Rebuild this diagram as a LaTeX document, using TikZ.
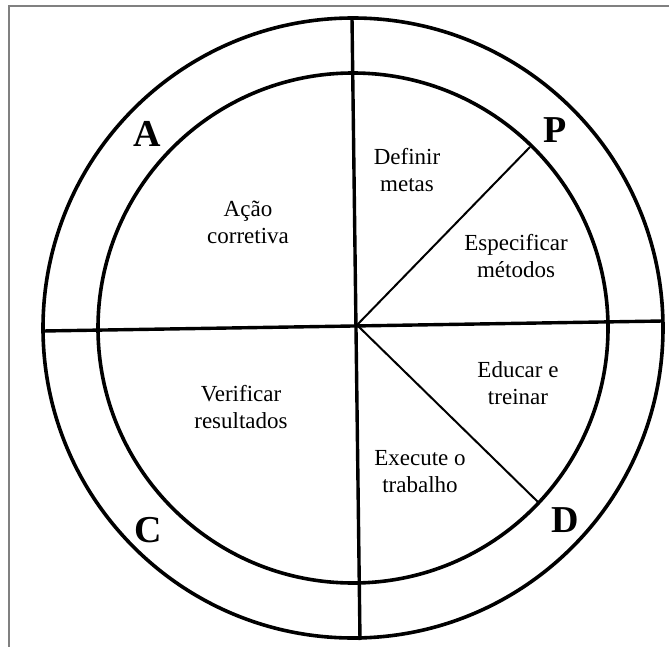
\documentclass[tikz,border=0pt]{standalone}
\usepackage{fontspec}
\setmainfont{Liberation Serif}
\begin{document}
\begin{tikzpicture}[x=1pt,y=-1pt,
  ring/.style={line width=3.6pt},
  axis/.style={line width=3.4pt},
  diag/.style={line width=2pt},
  frameline/.style={line width=1.4pt, gray},
  lbl/.style={align=center, font=\fontsize{23}{27}\selectfont, inner sep=0pt},
  letter/.style={font=\fontsize{38}{38}\selectfont\bfseries, inner sep=0pt}]
\useasboundingbox[fill=white] (0,0) rectangle (669,647);
% frame (top and left edge)
\coordinate (ftl) at (9,6);
\coordinate (ftr) at (669,6);
\coordinate (fbl) at (9,647);
\draw[frameline] (ftr) -- (ftl) -- (fbl);
% circles
\coordinate (c) at (353,328);
\draw[ring] (c) circle[radius=310pt];
\draw[ring] (c) circle[radius=255pt];
% axes
\coordinate (left) at (43,331);
\coordinate (right) at (663,321);
\coordinate (top) at (352,18);
\coordinate (bottom) at (360,640);
\draw[axis] (left) -- (right);
\draw[axis] (top) -- (bottom);
% diagonals
\coordinate (o) at (357,325);
\coordinate (pend) at (530,147);
\coordinate (dend) at (538,502);
\draw[diag] (o) -- (pend);
\draw[diag] (o) -- (dend);
% letters
\node[letter] (A) at (147,134) {A};
\node[letter] (P) at (555,130) {P};
\node[letter] (D) at (565,520) {D};
\node[letter] (C) at (148,530) {C};
% texts
\node[lbl] (t1) at (407,170) {Definir\\metas};
\node[lbl] (t2) at (516,256) {Especificar\\métodos};
\node[lbl] (t3) at (248,222) {Ação\\corretiva};
\node[lbl] (t4) at (241,407) {Verificar\\resultados};
\node[lbl] (t5) at (518,383) {Educar e\\treinar};
\node[lbl] (t6) at (420,472) {Execute o\\trabalho};
\end{tikzpicture}
\end{document}
